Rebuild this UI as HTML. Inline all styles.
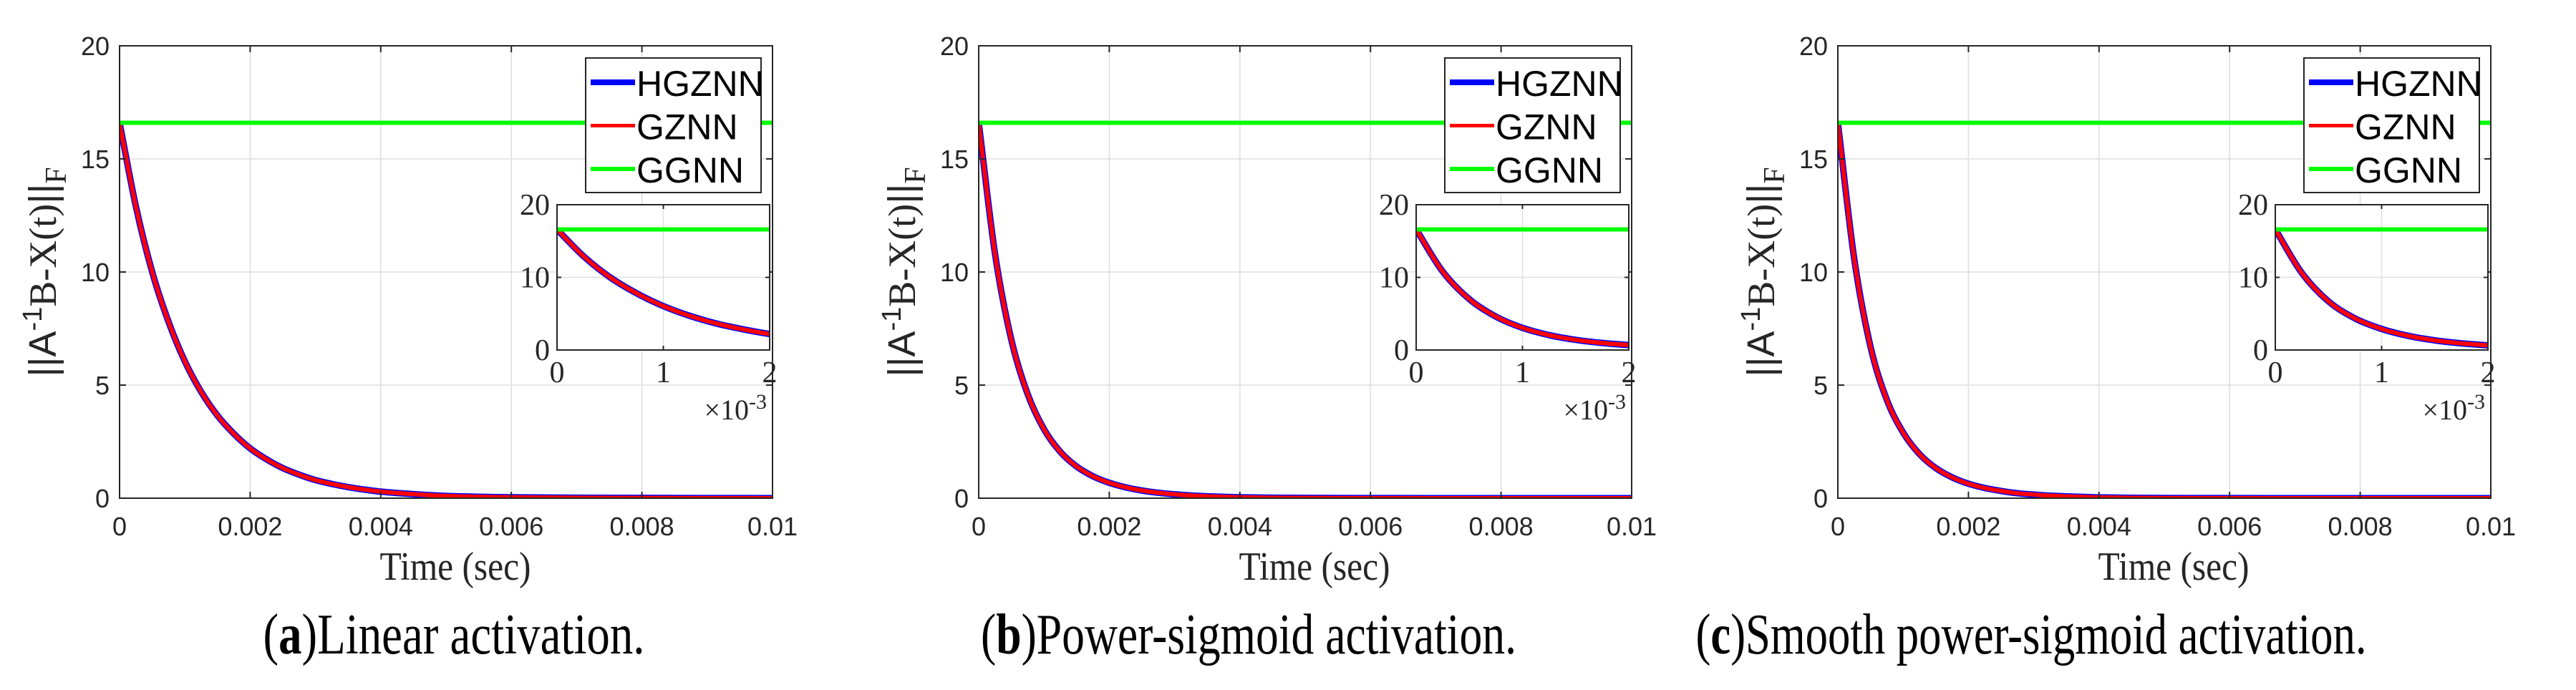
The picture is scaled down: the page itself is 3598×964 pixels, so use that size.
<!DOCTYPE html>
<html><head><meta charset="utf-8"><style>
html,body{margin:0;padding:0;background:#fff;}
svg{display:block;}
</style></head><body>
<svg id="fig" width="3598" height="964" viewBox="0 0 3598 964" xmlns="http://www.w3.org/2000/svg"></svg>
<script>
const times = [0,0.00025,0.0005,0.00075,0.001,0.00125,0.0015,0.00175,0.002,0.00225,0.0025,0.00275,0.003,0.00325,0.0035,0.00375,0.004,0.0045,0.005,0.006,0.007,0.008,0.009,0.01];
const linearGZNN = [16.6,12.9,10.0,7.8,6.05,4.7,3.65,2.85,2.2,1.72,1.33,1.04,0.8,0.63,0.49,0.38,0.29,0.18,0.1,0.04,0.02,0.01,0.005,0];
const powerGZNN = [16.6,10.8,7.0,4.6,3.05,2.05,1.4,0.97,0.68,0.48,0.34,0.24,0.17,0.12,0.085,0.06,0.04,0.02,0.01,0.005,0,0,0,0];
const smoothGZNN = [16.6,10.6,6.7,4.35,2.9,1.95,1.33,0.92,0.64,0.45,0.32,0.22,0.16,0.11,0.08,0.055,0.035,0.017,0.008,0.003,0,0,0,0];
const ggnnLevel = [16.6,16.6,16.6];
const xTickVals = [0,0.002,0.004,0.006,0.008,0.01];
const xTickLabels = ["0","0.002","0.004","0.006","0.008","0.01"];
const yTickVals = [0,5,10,15,20];
const insetXTicks = [0,0.001,0.002];
const insetXLabels = ["0","1","2"];
const insetYTicks = [0,10,20];
const legendNames = ["HGZNN","GZNN","GGNN"];
const captionsLetter = ["a","b","c"];
const captionsText = ["Linear activation.","Power-sigmoid activation.","Smooth power-sigmoid activation."];

const NS="http://www.w3.org/2000/svg";
const svg=document.getElementById('fig');
function mk(tag,attrs,parent){const e=document.createElementNS(NS,tag);for(const k in attrs)e.setAttribute(k,attrs[k]);(parent||svg).appendChild(e);return e;}
function smoothPath(px,py){
  const n=px.length;let p="M"+px[0]+","+py[0];
  for(let i=0;i<n-1;i++){
    const x0=px[Math.max(i-1,0)],y0=py[Math.max(i-1,0)],x1=px[i],y1=py[i],x2=px[i+1],y2=py[i+1],x3=px[Math.min(i+2,n-1)],y3=py[Math.min(i+2,n-1)];
    const m1=(y2-y0)/(x2-x0||1),m2=(y3-y1)/(x3-x1||1);const h=(x2-x1)/3;
    let c1=y1+m1*h,c2=y2-m2*h;
    const lo=Math.min(y1,y2),hi=Math.max(y1,y2);c1=Math.max(lo,Math.min(hi,c1));c2=Math.max(lo,Math.min(hi,c2));
    p+=" C"+(x1+h)+","+c1+" "+(x2-h)+","+c2+" "+x2+","+y2;
  }
  return p;
}
const series=[linearGZNN,powerGZNN,smoothGZNN];
const capCenters=[634,1744,2837];
const capWidths=[533,748,937];

function drawAxes(g,L,R,T,B,xt,yt,xs,ys,big){
  xt.forEach(v=>{const gl=mk('line',{x1:xs(v),x2:xs(v),y1:T,y2:B,stroke:'#dfdfdf','stroke-width':big?1.6:1.4},g);});
  yt.forEach(v=>{const gl=mk('line',{x1:L,x2:R,y1:ys(v),y2:ys(v),stroke:'#dfdfdf','stroke-width':big?1.6:1.4},g);});
}
function drawSeries(g,xs,ys,data,clipId){
  const cg=mk('g',{'clip-path':'url(#'+clipId+')'},g);
  
  
  const px=times.map(xs),py=data.map(ys);
  const d=smoothPath(px,py);
  const hg=mk('path',{d:d,fill:'none',stroke:'#0000ff','stroke-width':9,'stroke-linejoin':'round'},cg);
  
  
  const gz=mk('path',{d:d,fill:'none',stroke:'#ff0000','stroke-width':6,'stroke-linejoin':'round'},cg);
  
  
  const gxs=[0,0.005,0.01].map(xs);
  const gg=mk('polyline',{points:gxs.map((x,i)=>x+','+ys(ggnnLevel[i])).join(' '),fill:'none',stroke:'#00ff00','stroke-width':6},cg);
  
  
}
function drawFrame(g,L,R,T,B,xt,yt,xs,ys,tl){
  const fr=mk('rect',{x:L,y:T,width:R-L,height:B-T,fill:'none',stroke:'#262626','stroke-width':2},g);
  
  
  xt.forEach(v=>{mk('line',{x1:xs(v),x2:xs(v),y1:B,y2:B-tl,stroke:'#262626','stroke-width':2},g);mk('line',{x1:xs(v),x2:xs(v),y1:T,y2:T+tl,stroke:'#262626','stroke-width':2},g);});
  yt.forEach(v=>{mk('line',{x1:L,x2:L+tl,y1:ys(v),y2:ys(v),stroke:'#262626','stroke-width':2},g);mk('line',{x1:R,x2:R-tl,y1:ys(v),y2:ys(v),stroke:'#262626','stroke-width':2},g);});
}
const defs=mk('defs',{});
for(let p=0;p<3;p++){
  const off=1200*p;
  const L=167+off,R=1079+off,T=64,B=696;
  const xs=v=>L+(v/0.01)*(R-L), ys=v=>B-(v/20)*(B-T);
  const g=mk('g',{});
  
  
  const cp=mk('clipPath',{id:'clipM'+p},defs);mk('rect',{x:L,y:T,width:R-L,height:B-T},cp);
  drawAxes(g,L,R,T,B,xTickVals,yTickVals,xs,ys,true);
  drawSeries(g,xs,ys,series[p],'clipM'+p);
  drawFrame(g,L,R,T,B,xTickVals,yTickVals,xs,ys,9);
  xTickVals.forEach((v,i)=>{const t=mk('text',{x:xs(v),y:748,'text-anchor':'middle','font-family':'Liberation Sans, sans-serif','font-size':36,fill:'#262626'},g);t.textContent=xTickLabels[i];});
  yTickVals.forEach(v=>{const t=mk('text',{x:L-14,y:ys(v)+13,'text-anchor':'end','font-family':'Liberation Sans, sans-serif','font-size':36,fill:'#262626'},g);t.textContent=String(v);});
  const xl=mk('text',{x:(L+R)/2+13,y:810,'text-anchor':'middle','font-family':'Liberation Serif, serif','font-size':56,fill:'#262626',textLength:211,lengthAdjust:'spacingAndGlyphs'},g);
  xl.textContent='Time (sec)';
  
  
  const yl=mk('text',{x:0,y:0,transform:'translate('+(78+off)+','+((T+B)/2)+') rotate(-90)','text-anchor':'middle','font-size':54,fill:'#262626','font-family':'Liberation Serif, serif'},g);
  
  
  yl.innerHTML='<tspan font-family="Liberation Sans, sans-serif">||A</tspan><tspan font-family="Liberation Sans, sans-serif" font-size="38" dy="-20">-1</tspan><tspan dy="20">B-X(t)</tspan><tspan font-family="Liberation Sans, sans-serif">||</tspan><tspan font-size="42" dy="14">F</tspan>';
  const lL=R-261,lR=R-16,lT=81,lB=269;
  const lg=mk('g',{},g);
  
  
  mk('rect',{x:lL,y:lT,width:lR-lL,height:lB-lT,fill:'#fff',stroke:'#262626','stroke-width':2},lg);
  const cols=['#0000ff','#ff0000','#00ff00'],wid=[8,5,6];
  legendNames.forEach((n,i)=>{const y=115+60.5*i;
    const ln=mk('line',{x1:lL+7,x2:lL+69,y1:y,y2:y,stroke:cols[i],'stroke-width':wid[i]},lg);
    
    
    const t=mk('text',{x:lL+71,y:y+19,'font-family':'Liberation Sans, sans-serif','font-size':50,fill:'#000'},lg);t.textContent=n;
    
    });
  const iL=L+611,iR=R-4,iT=286,iB=489;
  const ixs=v=>iL+(v/0.002)*(iR-iL), iys=v=>iB-(v/20)*(iB-iT);
  const ig=mk('g',{},g);
  
  
  mk('rect',{x:iL,y:iT,width:iR-iL,height:iB-iT,fill:'#fff'},ig);
  const cpi=mk('clipPath',{id:'clipI'+p},defs);mk('rect',{x:iL,y:iT,width:iR-iL,height:iB-iT},cpi);
  drawAxes(ig,iL,iR,iT,iB,insetXTicks,insetYTicks,ixs,iys,false);
  drawSeries(ig,ixs,iys,series[p],'clipI'+p);
  drawFrame(ig,iL,iR,iT,iB,insetXTicks,insetYTicks,ixs,iys,6);
  insetXTicks.forEach((v,i)=>{const t=mk('text',{x:ixs(v),y:534,'text-anchor':'middle','font-family':'Liberation Serif, serif','font-size':42,fill:'#262626'},ig);t.textContent=insetXLabels[i];});
  insetYTicks.forEach(v=>{const t=mk('text',{x:iL-10,y:iys(v)+14,'text-anchor':'end','font-family':'Liberation Serif, serif','font-size':42,fill:'#262626'},ig);t.textContent=String(v);});
  const ex=mk('text',{x:iR-4,y:586,'text-anchor':'end','font-family':'Liberation Serif, serif','font-size':40,fill:'#262626'},ig);
  ex.innerHTML='×10<tspan font-size="30" dy="-15">-3</tspan>';
  
  
  const cap=mk('text',{x:capCenters[p],y:913,'text-anchor':'middle','font-family':'Liberation Serif, serif','font-size':80,fill:'#000',textLength:capWidths[p],lengthAdjust:'spacingAndGlyphs'},g);
  cap.innerHTML='(<tspan font-weight="bold">'+captionsLetter[p]+'</tspan>)'+captionsText[p];
  
  
}
</script>
</body></html>
